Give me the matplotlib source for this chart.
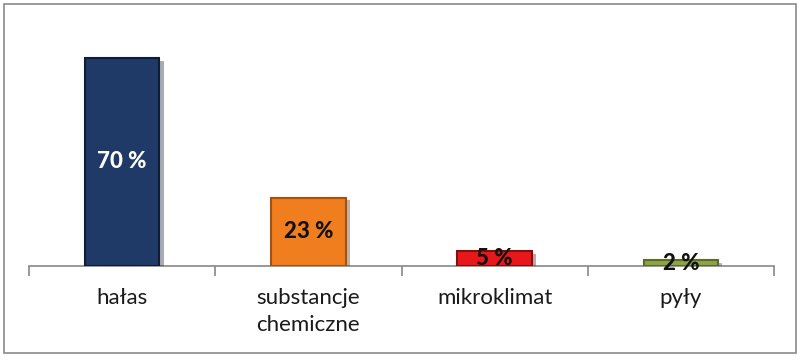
import matplotlib
matplotlib.use("Agg")
import matplotlib.pyplot as plt
import matplotlib.patheffects as pe
from matplotlib.patches import Rectangle
import numpy as np

categories = ["hałas", "substancje\nchemiczne", "mikroklimat", "pyły"]
values = [70, 23, 5, 2]
labels = ["70 %", "23 %", "5 %", "2 %"]
colors = ["#1f3a66", "#f07d1e", "#e8181a", "#8ea447"]
edge_colors = ["#0e1d36", "#a8500c", "#8c0a0a", "#5b6b28"]
text_colors = ["white", "#111111", "#111111", "#111111"]

plt.rcParams["font.family"] = ["Lato", "DejaVu Sans"]

fig = plt.figure(figsize=(8, 3.6), dpi=100)
# outer frame of the chart
fig.patches.append(Rectangle((4 / 800, 7 / 360), 792 / 800, 349 / 360,
                             transform=fig.transFigure, fill=False,
                             edgecolor="#8a8a8a", linewidth=1.2))

ax = fig.add_axes([29 / 800, 1 - 266 / 360, 745 / 800, (266 - 28) / 360])
x = np.arange(len(values))
bars = ax.bar(x, values, width=0.40, color=colors, edgecolor=edge_colors,
              linewidth=1.5, zorder=3)
for b in bars:
    b.set_path_effects([pe.SimplePatchShadow(offset=(3, -2), alpha=0.35),
                        pe.Normal()])

for xi, v, lab, tc in zip(x, values, labels, text_colors):
    ax.text(xi, v / 2, lab, ha="center", va="center", fontsize=16,
            fontweight="black", color=tc, zorder=5)

ax.set_xlim(-0.5, len(values) - 0.5)
ax.set_ylim(0, 80)
for s in ["top", "right", "left"]:
    ax.spines[s].set_visible(False)
ax.spines["bottom"].set_color("#888888")
ax.spines["bottom"].set_linewidth(1.2)
ax.set_yticks([])
ax.set_xticks(np.arange(len(values) + 1) - 0.5)
ax.set_xticklabels([])
ax.tick_params(axis="x", direction="out", length=7, color="#888888", width=1.2)
ax.set_xticks(x, minor=True)
ax.set_xticklabels(categories, minor=True, fontsize=16, color="#1a1a1a",
                   linespacing=1.45)
ax.tick_params(axis="x", which="minor", length=0, pad=16)

fig.savefig("out.png", dpi=100)
